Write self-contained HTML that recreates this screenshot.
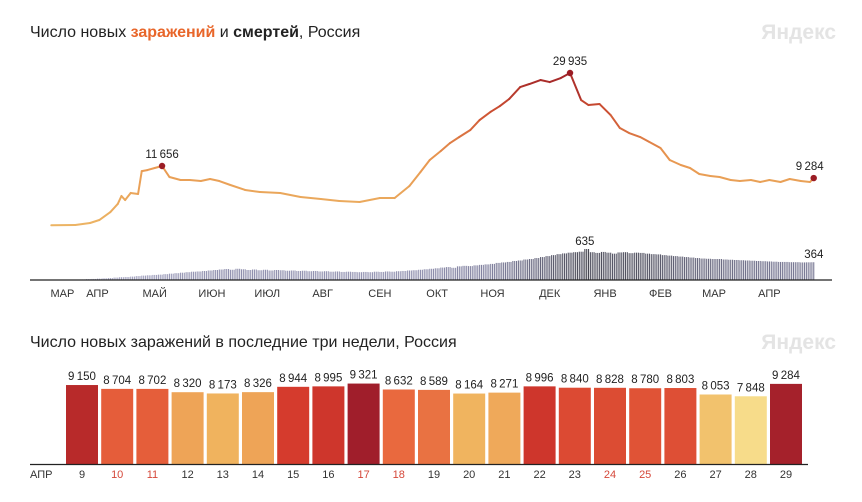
<!DOCTYPE html>
<html><head><meta charset="utf-8">
<style>
body{margin:0;background:#fff;width:862px;height:497px;overflow:hidden;font-family:"Liberation Sans",sans-serif}
svg text{font-family:"Liberation Sans","Noto Sans CJK SC",sans-serif}
</style></head>
<body>
<svg id="s" width="862" height="497">
<text x="30" y="37" font-size="16" fill="#222">Число новых <tspan fill="#e8662a" font-weight="bold">заражений</tspan> и <tspan font-weight="bold">смертей</tspan>, Россия</text>
<text x="836" y="39" font-size="21" font-weight="bold" fill="#e4e4e4" text-anchor="end">Яндекс</text>
<text x="30" y="347" font-size="16" fill="#222">Число новых заражений в последние три недели, Россия</text>
<text x="836" y="349" font-size="21" font-weight="bold" fill="#e4e4e4" text-anchor="end">Яндекс</text>
<g id="topg"></g><g id="bot"></g>
</svg>
<script>
const caseDays=[11,24,32,37,43,47,49,51,54,58,60,63,67,71,75,81,86,92,97,102,108,116,124,135,146,157,167,178,189,197,205,211,216,222,227,232,238,243,249,254,259,265,270,276,281,287,292,298,302,308,314,319,324,330,335,341,346,352,357,362,368,373,379,384,390,395,400,406,411,417,422,424];
const cases=[0,60,450,1040,2610,4190,5760,4970,6350,6150,10650,10850,11260,11656,9490,8900,8900,8700,9100,8700,7920,6940,6540,6350,5560,5170,4780,4580,5360,5360,7720,10470,12830,14600,16170,17350,18730,20690,22300,23440,24820,27170,27770,28550,28150,28940,29935,24620,23640,23830,21670,19120,18140,17350,16370,15190,12830,11850,11260,10080,9690,9490,8900,8700,8900,8510,8900,8510,9100,8700,8510,9284];
const deathStartDay=24, deathStep=3;
const deaths=[8,12,18,22,28,34,40,50,58,62,70,80,90,96,104,110,120,130,140,150,160,170,175,185,195,205,215,225,210,230,220,205,215,200,210,195,205,200,190,195,185,190,180,185,175,180,170,175,165,170,165,160,165,160,170,165,175,170,180,185,195,200,210,220,230,240,255,265,250,280,290,285,300,310,320,330,350,360,370,390,400,420,430,450,470,490,510,530,545,560,570,580,635,570,555,575,560,540,565,570,550,560,555,540,530,525,510,500,490,480,470,460,450,440,435,430,430,420,415,410,405,400,395,390,385,380,375,370,370,365,365,360,362,364];
const months=["МАР","АПР","МАЙ","ИЮН","ИЮЛ","АВГ","СЕН","ОКТ","НОЯ","ДЕК","ЯНВ","ФЕВ","МАР","АПР"];
const monthDays=[17,36,67,98,128,158,189,220,250,281,311,341,370,400];
const barDays=["9","10","11","12","13","14","15","16","17","18","19","20","21","22","23","24","25","26","27","28","29"];
const barVals=[9150,8704,8702,8320,8173,8326,8944,8995,9321,8632,8589,8164,8271,8996,8840,8828,8780,8803,8053,7848,9284];
const weekend=["10","11","17","18","24","25"];
const NS="http://www.w3.org/2000/svg";
function mk(p,t,a){const e=document.createElementNS(NS,t);for(const k in a)e.setAttribute(k,a[k]);p.appendChild(e);return e;}
const X=d=>31+d*1.846, Y=v=>225.3-v*0.005088, DY=v=>280-v*0.0488;
function lerp(a,b,t){return a.map((x,i)=>Math.round(x+(b[i]-x)*t));}
function ramp(stops,t){t=Math.max(0,Math.min(1,t));for(let i=1;i<stops.length;i++){if(t<=stops[i][0]){const u=(t-stops[i-1][0])/(stops[i][0]-stops[i-1][0]);return 'rgb('+lerp(stops[i-1][1],stops[i][1],u).join(',')+')';}}return 'rgb('+stops[stops.length-1][1].join(',')+')';}
const topG=document.getElementById('topg');
deaths.forEach((v,i)=>{const d=deathStartDay+i*deathStep;const c=ramp([[0,[170,170,200]],[0.5,[130,130,160]],[1,[70,70,80]]],v/635);
for(let j=0;j<deathStep&&d+j<=424;j++){const r=mk(topG,'rect',{x:X(d+j)-0.5,y:DY(v),width:1.1,height:280-DY(v),fill:c});

}});
for(let i=1;i<cases.length;i++){const c=ramp([[0,[236,180,100]],[0.45,[232,150,80]],[0.75,[205,80,50]],[1,[160,35,40]]],(cases[i]+cases[i-1])/2/29935);
const l=mk(topG,'line',{x1:X(caseDays[i-1]),y1:Y(cases[i-1]),x2:X(caseDays[i]),y2:Y(cases[i]),stroke:c,'stroke-width':2,'stroke-linecap':'round'});

}
const ax=mk(topG,'line',{x1:30,y1:280,x2:832,y2:280,stroke:'#222','stroke-width':1.3});


months.forEach((m,i)=>{const t=mk(topG,'text',{x:X(monthDays[i]),y:297,'font-size':11,'text-anchor':'middle',fill:'#333'});t.textContent=m;

});
function mark(idx,lbl,dx){const d=caseDays[idx],v=cases[idx];const c=mk(topG,'circle',{cx:X(d),cy:Y(v),r:3.2,fill:'#9b1c24'});


const t=mk(topG,'text',{x:X(d)+dx,y:Y(v)-8,'font-size':11.5,'text-anchor':'middle',fill:'#222'});t.textContent=lbl;

}
const fmt=v=>String(v).replace(/\B(?=(\d{3})+(?!\d))/g,'\u2009');
let mi=cases.indexOf(Math.max(...cases));
mark(13,fmt(cases[13]),0);mark(mi,fmt(cases[mi]),0);mark(cases.length-1,fmt(cases[cases.length-1]),-4);
let di=deaths.indexOf(Math.max(...deaths));
[di,deaths.length-1].forEach(i=>{const d=deathStartDay+i*deathStep;const t=mk(topG,'text',{x:X(d)+(i===di?0:2),y:DY(deaths[i])-4,'font-size':11.5,'text-anchor':'middle',fill:'#222'});t.textContent=deaths[i];

});
const bot=document.getElementById('bot');
const BX=i=>66+i*35.2, BY=v=>464-v*0.00863;
barVals.forEach((v,i)=>{const t=(v-7848)/(9321-7848);
const c=ramp([[0,[247,220,138]],[0.2,[240,182,96]],[0.35,[238,160,85]],[0.55,[232,100,60]],[0.75,[212,58,45]],[0.88,[185,42,42]],[1,[160,30,43]]],t);
const r=mk(bot,'rect',{x:BX(i),y:BY(v),width:32,height:464-BY(v),fill:c});


const l=mk(bot,'text',{x:BX(i)+16,y:BY(v)-5,'font-size':11.5,'text-anchor':'middle',fill:'#222'});l.textContent=fmt(v);


const d=mk(bot,'text',{x:BX(i)+16,y:478,'font-size':11,'text-anchor':'middle',fill:weekend.includes(barDays[i])?'#d5483a':'#333'});d.textContent=barDays[i];

});
const bax=mk(bot,'line',{x1:30,y1:464.5,x2:808,y2:464.5,stroke:'#222','stroke-width':1.3});


const ap=mk(bot,'text',{x:30,y:478,'font-size':11,fill:'#333'});ap.textContent='АПР';


</script>
</body></html>
